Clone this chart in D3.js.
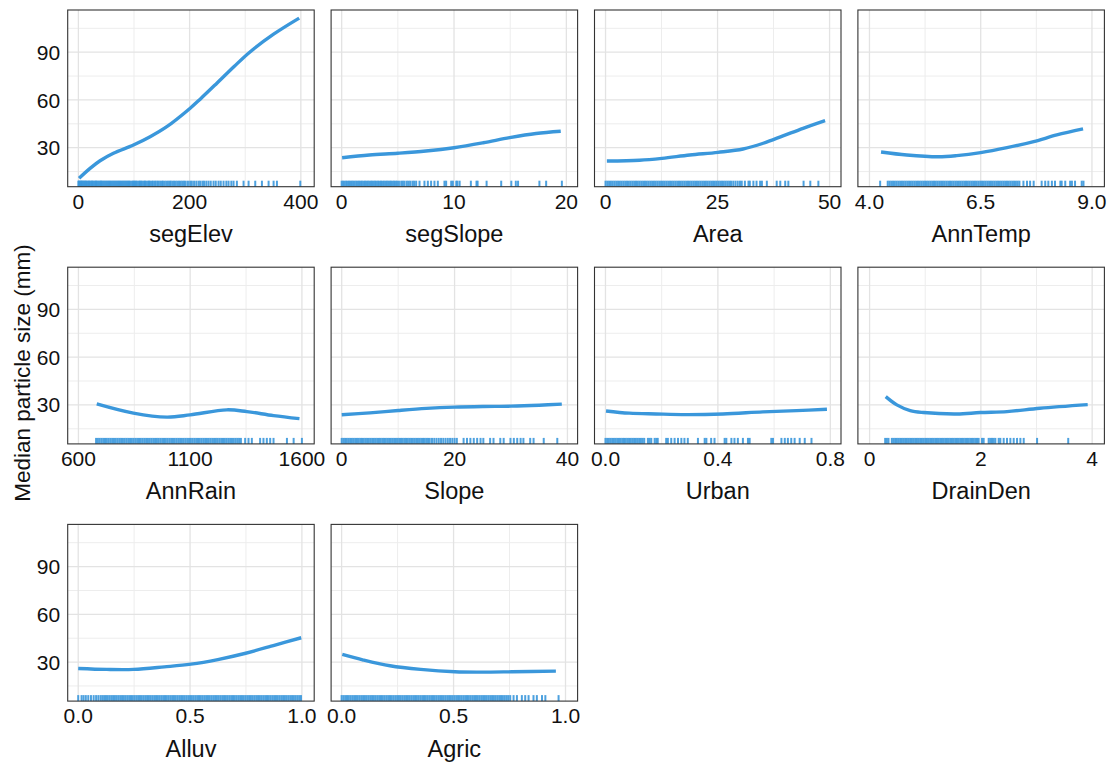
<!DOCTYPE html>
<html>
<head>
<meta charset="utf-8">
<script src="https://cdn.jsdelivr.net/npm/d3@7"></script>
<style>
  body { margin: 0; background: #fff; }
  svg { display: block; }
  text { font-family: "Liberation Sans", Arial, Helvetica, sans-serif; fill: #111; }
</style>
</head>
<body>
<svg id="chart" width="1116" height="766"></svg>
<script>
// ---------------- data ----------------
const variables = ["segElev", "segSlope", "Area", "AnnTemp", "AnnRain", "Slope", "Urban", "DrainDen", "Alluv", "Agric"];
const yTitle = "Median particle size (mm)";
const yTicks = [30, 60, 90];
const yMinor = [15, 45, 75, 105];
const yDomain = [5.5, 116.5];

// x ticks per panel
const segElevTicks = [0, 200, 400];
const segSlopeTicks = [0, 10, 20];
const AreaTicks = [0, 25, 50];
const AnnTempTicks = [4.0, 6.5, 9.0];
const AnnRainTicks = [600, 1100, 1600];
const SlopeTicks = [0, 20, 40];
const UrbanTicks = [0.0, 0.4, 0.8];
const DrainDenTicks = [0, 2, 4];
const AlluvTicks = [0.0, 0.5, 1.0];
const AgricTicks = [0.0, 0.5, 1.0];
const tickDecimals = [0, 0, 0, 1, 0, 0, 1, 0, 1, 1];

// x axis limits per panel
const segElevLim = [-19.2, 424];
const segSlopeLim = [-0.94, 21.0];
const AreaLim = [-2.46, 52.55];
const AnnTempLim = [3.74, 9.28];
const AnnRainLim = [552, 1655];
const SlopeLim = [-1.88, 41.8];
const UrbanLim = [-0.039, 0.838];
const DrainDenLim = [-0.21, 4.22];
const AlluvLim = [-0.047, 1.055];
const AgricLim = [-0.047, 1.054];

// partial dependence curves
const segElevX = [1.3, 21, 39, 63, 99, 129, 159, 201, 219, 249, 280, 308, 351, 397];
const segElevY = [10.8, 17.0, 21.8, 26.5, 31.7, 36.9, 43.2, 54.8, 60.5, 70.5, 81.0, 90.0, 101.3, 111.4];
const segSlopeX = [0.04, 2.47, 5.0, 7.5, 10, 12.6, 14.95, 17.3, 19.5];
const segSlopeY = [23.7, 25.4, 26.5, 27.9, 30, 33.1, 36.3, 38.9, 40.3];
const AreaX = [0.3, 7.6, 12.6, 18.8, 25.1, 30.7, 35.2, 39.6, 44.1, 49];
const AreaY = [21.6, 22.1, 23.3, 25.4, 27.1, 29.2, 32.8, 37.4, 42.2, 47.0];
const AnnTempX = [4.26, 4.84, 5.55, 5.96, 6.5, 7.09, 7.69, 8.21, 8.8];
const AnnTempY = [27.3, 25.4, 24.3, 25.0, 26.9, 30.0, 33.8, 38.0, 41.8];
const AnnRainX = [682, 846, 996, 1100, 1264, 1354, 1473, 1589];
const AnnRainY = [30.6, 24.8, 22.3, 23.7, 26.9, 25.8, 23.3, 21.4];
const SlopeX = [0, 5, 10, 15, 20, 25, 30, 35, 39];
const SlopeY = [23.8, 25.0, 26.5, 27.8, 28.6, 29.0, 29.2, 29.8, 30.5];
const UrbanX = [0.002, 0.085, 0.18, 0.287, 0.418, 0.56, 0.68, 0.788];
const UrbanY = [26.2, 24.8, 24.3, 23.9, 24.3, 25.6, 26.4, 27.3];
const DrainDenX = [0.29, 0.49, 0.73, 0.97, 1.57, 1.99, 2.47, 3.06, 3.92];
const DrainDenY = [35.2, 30.0, 26.4, 25.2, 24.3, 25.2, 25.8, 27.9, 30.2];
const AlluvX = [0, 0.128, 0.248, 0.385, 0.504, 0.624, 0.744, 0.88, 0.997];
const AlluvY = [26.0, 25.4, 25.4, 27.0, 28.7, 31.6, 35.4, 40.7, 45.3];
const AgricX = [0.003, 0.097, 0.216, 0.353, 0.506, 0.625, 0.761, 0.957];
const AgricY = [34.8, 31.3, 27.7, 25.4, 23.9, 23.7, 23.9, 24.3];

// rug (observed predictor values)
const segElevRug = [0,1,2,4,5,6,8,9,11,12,14,15,17,19,20,22,24,25,27,29,31,32,34,36,38,40,41,43,45,47,49,51,53,55,57,59,61,63,65,67,69,71,73,75,77,79,81,83,85,87,89,91,93,96,98,100,102,104,106,109,111,113,115,118,120,122,125,127,129,132,134,137,139,142,144,147,150,152,155,158,161,164,166,169,172,175,178,181,184,187,190,193,197,201,204,208,212,216,219,223,226,230,234,238,243,247,252,256,261,266,270,275,279,285,297,306,318,330,342,351,357,399];
const segSlopeRug = [0,0.13,0.26,0.4,0.52,0.65,0.78,0.9,1.03,1.16,1.3,1.42,1.55,1.68,1.8,1.94,2.07,2.2,2.33,2.46,2.6,2.72,2.85,2.98,3.1,3.24,3.37,3.5,3.63,3.76,3.9,4.02,4.15,4.28,4.4,4.54,4.67,4.8,4.93,5.1,5.3,5.45,5.6,5.8,5.95,6.1,6.3,6.45,6.63,6.93,7.37,7.67,7.96,8.26,8.56,9.15,9.3,9.75,9.9,10.2,10.3,10.5,11.5,12.0,12.1,12.9,14.2,15.1,15.5,15.7,17.6,18.2,19.6];
const AreaRug = [0,0.4,0.8,1.2,1.6,2,2.4,2.8,3.2,3.6,4,4.4,4.8,5.2,5.6,6,6.4,6.8,7.2,7.6,8,8.4,8.8,9.2,9.6,10,10.4,10.8,11.2,11.6,12,12.4,12.8,13.2,13.6,14,14.4,14.8,15.2,15.6,16,16.4,16.8,17.2,17.6,18,18.4,18.8,19.2,19.6,20,20.4,20.8,21.2,21.6,22,22.4,22.8,23.2,23.6,24,24.4,24.8,25.2,25.6,26,26.4,26.8,27.2,27.6,28,28.5,29,29.5,30,30.4,31.1,31.9,32.2,33.0,33.7,34.5,34.9,36.0,38.2,39.0,40.1,40.8,44.2,45.7,47.5];
const AnnTempRug = [4.24,4.41,4.45,4.49,4.53,4.57,4.61,4.65,4.69,4.73,4.77,4.81,4.85,4.89,4.93,4.97,5.01,5.05,5.09,5.13,5.17,5.21,5.25,5.29,5.33,5.37,5.41,5.45,5.49,5.53,5.57,5.61,5.65,5.69,5.73,5.77,5.81,5.85,5.89,5.93,5.97,6.01,6.05,6.09,6.13,6.17,6.21,6.25,6.29,6.33,6.37,6.41,6.45,6.49,6.53,6.57,6.61,6.65,6.69,6.73,6.77,6.81,6.85,6.89,6.93,6.97,7.01,7.05,7.09,7.13,7.17,7.21,7.25,7.29,7.33,7.37,7.46,7.54,7.61,7.69,7.87,7.95,8.02,8.10,8.17,8.29,8.32,8.40,8.51,8.55,8.62,8.77,8.81];
const AnnRainRug = [679,687,695,703,711,719,727,735,743,751,759,767,775,783,791,799,807,815,823,831,839,847,855,863,871,879,887,895,903,911,919,927,935,943,951,959,967,975,983,991,999,1007,1015,1023,1031,1039,1047,1055,1063,1071,1079,1087,1095,1103,1111,1119,1127,1135,1143,1151,1159,1167,1175,1183,1191,1199,1207,1215,1223,1231,1239,1247,1255,1263,1271,1279,1287,1295,1303,1311,1319,1327,1346,1361,1376,1413,1428,1443,1458,1473,1533,1563,1600];
const SlopeRug = [0,0.3,0.6,0.9,1.2,1.5,1.8,2.1,2.4,2.7,3,3.3,3.6,3.9,4.2,4.5,4.8,5.1,5.4,5.7,6,6.3,6.6,6.9,7.2,7.5,7.8,8.1,8.4,8.7,9,9.3,9.6,9.9,10.2,10.5,10.8,11.1,11.4,11.7,12,12.3,12.6,12.9,13.2,13.5,13.8,14.1,14.4,14.7,15,15.3,15.6,16.0,16.4,16.8,17.2,17.6,18.0,18.4,18.8,19.2,19.6,20.0,20.4,21.6,22.2,22.8,23.4,24.0,24.6,25.1,26.3,26.9,28.1,28.7,29.9,30.5,31.1,31.7,32.2,33.4,34.0,35.8,38.2];
const UrbanRug = [0,0.006,0.012,0.018,0.024,0.03,0.036,0.042,0.048,0.054,0.06,0.066,0.072,0.078,0.084,0.09,0.096,0.102,0.108,0.114,0.12,0.126,0.132,0.138,0.151,0.157,0.163,0.175,0.181,0.186,0.216,0.222,0.234,0.246,0.258,0.270,0.281,0.293,0.329,0.353,0.359,0.376,0.388,0.424,0.430,0.448,0.459,0.471,0.489,0.507,0.513,0.590,0.596,0.626,0.638,0.649,0.661,0.673,0.691,0.709,0.733];
const DrainDenRug = [0.28,0.31,0.34,0.40,0.43,0.46,0.49,0.52,0.55,0.58,0.61,0.64,0.67,0.70,0.73,0.76,0.79,0.82,0.85,0.88,0.91,0.94,0.97,1.00,1.03,1.06,1.09,1.12,1.15,1.18,1.21,1.24,1.27,1.30,1.33,1.36,1.39,1.42,1.45,1.48,1.51,1.54,1.57,1.60,1.63,1.66,1.69,1.72,1.75,1.78,1.81,1.84,1.87,1.90,1.93,1.96,2.02,2.05,2.14,2.17,2.20,2.23,2.26,2.32,2.35,2.41,2.47,2.53,2.59,2.65,2.71,2.77,3.01,3.57];
const AlluvRug = [0,0.015,0.024,0.034,0.045,0.057,0.069,0.08,0.09,0.1,0.108,0.116,0.124,0.132,0.14,0.148,0.156,0.164,0.172,0.18,0.188,0.196,0.204,0.212,0.22,0.228,0.236,0.244,0.252,0.26,0.268,0.276,0.284,0.292,0.3,0.308,0.316,0.324,0.332,0.34,0.348,0.356,0.364,0.372,0.38,0.388,0.396,0.404,0.412,0.42,0.428,0.436,0.444,0.452,0.46,0.468,0.476,0.484,0.492,0.5,0.508,0.516,0.524,0.532,0.54,0.548,0.556,0.564,0.572,0.58,0.588,0.596,0.604,0.612,0.62,0.628,0.636,0.644,0.652,0.66,0.668,0.676,0.684,0.692,0.7,0.708,0.716,0.724,0.732,0.74,0.748,0.756,0.764,0.772,0.78,0.788,0.796,0.804,0.812,0.82,0.828,0.836,0.844,0.852,0.86,0.868,0.876,0.884,0.892,0.9,0.908,0.916,0.924,0.932,0.94,0.948,0.956,0.964,0.972,0.98,0.988,0.996];
const AgricRug = [0,0.008,0.016,0.024,0.032,0.04,0.048,0.056,0.064,0.072,0.08,0.088,0.096,0.104,0.112,0.12,0.128,0.136,0.144,0.152,0.16,0.168,0.176,0.184,0.192,0.2,0.208,0.216,0.224,0.232,0.24,0.248,0.256,0.264,0.272,0.28,0.288,0.296,0.304,0.312,0.32,0.328,0.336,0.344,0.352,0.36,0.368,0.376,0.384,0.392,0.4,0.408,0.416,0.424,0.432,0.44,0.448,0.456,0.464,0.472,0.48,0.488,0.496,0.504,0.512,0.52,0.528,0.536,0.544,0.552,0.56,0.568,0.576,0.584,0.592,0.6,0.608,0.616,0.624,0.632,0.64,0.648,0.656,0.664,0.672,0.68,0.688,0.696,0.704,0.712,0.72,0.728,0.736,0.744,0.753,0.768,0.783,0.805,0.820,0.835,0.857,0.872,0.895,0.910,0.969];

// ---------------- build panel table ----------------
const src = {
  segElev: [segElevTicks, segElevLim, segElevX, segElevY, segElevRug],
  segSlope: [segSlopeTicks, segSlopeLim, segSlopeX, segSlopeY, segSlopeRug],
  Area: [AreaTicks, AreaLim, AreaX, AreaY, AreaRug],
  AnnTemp: [AnnTempTicks, AnnTempLim, AnnTempX, AnnTempY, AnnTempRug],
  AnnRain: [AnnRainTicks, AnnRainLim, AnnRainX, AnnRainY, AnnRainRug],
  Slope: [SlopeTicks, SlopeLim, SlopeX, SlopeY, SlopeRug],
  Urban: [UrbanTicks, UrbanLim, UrbanX, UrbanY, UrbanRug],
  DrainDen: [DrainDenTicks, DrainDenLim, DrainDenX, DrainDenY, DrainDenRug],
  Alluv: [AlluvTicks, AlluvLim, AlluvX, AlluvY, AlluvRug],
  Agric: [AgricTicks, AgricLim, AgricX, AgricY, AgricRug]
};
const panels = variables.map((v, i) => {
  const [ticks, lim, xs, ys, rug] = src[v];
  return { name: v, ticks, lim, curve: xs.map((x, j) => [x, ys[j]]), rug, dec: tickDecimals[i] };
});

// ---------------- layout ----------------
const ncol = 4;
const x0 = 67.7, y0 = 10, pw = 246.5, ph = 176.7, stepX = 263.4, stepY = 257.2;
const lineColor = "#3a97db";

const svg = d3.select("#chart");

const y = d3.scaleLinear().domain(yDomain).range([ph, 0]);

panels.forEach((p, i) => {
  const col = i % ncol, row = Math.floor(i / ncol);
  const g = svg.append("g").attr("transform", `translate(${x0 + col * stepX},${y0 + row * stepY})`);
  const x = d3.scaleLinear().domain(p.lim).range([0, pw]);

  g.append("rect").attr("width", pw).attr("height", ph).attr("fill", "#fff");

  // minor grid
  const xMinor = d3.pairs(p.ticks).map(([a, b]) => (a + b) / 2);
  g.selectAll(".vminor").data(xMinor).join("line")
    .attr("x1", d => x(d)).attr("x2", d => x(d)).attr("y1", 0).attr("y2", ph)
    .attr("stroke", "#ededed").attr("stroke-width", 1);
  g.selectAll(".hminor").data(yMinor).join("line")
    .attr("x1", 0).attr("x2", pw).attr("y1", d => y(d)).attr("y2", d => y(d))
    .attr("stroke", "#ededed").attr("stroke-width", 1);
  // major grid
  g.selectAll(".vmajor").data(p.ticks).join("line")
    .attr("x1", d => x(d)).attr("x2", d => x(d)).attr("y1", 0).attr("y2", ph)
    .attr("stroke", "#e3e3e3").attr("stroke-width", 1.3);
  g.selectAll(".hmajor").data(yTicks).join("line")
    .attr("x1", 0).attr("x2", pw).attr("y1", d => y(d)).attr("y2", d => y(d))
    .attr("stroke", "#e3e3e3").attr("stroke-width", 1.3);

  // rug
  g.append("g").selectAll("line").data(p.rug).join("line")
    .attr("x1", d => x(d)).attr("x2", d => x(d))
    .attr("y1", ph).attr("y2", ph - 6)
    .attr("stroke", lineColor).attr("stroke-width", 2).attr("stroke-opacity", 0.9);

  // curve
  g.append("path").datum(p.curve)
    .attr("fill", "none").attr("stroke", lineColor).attr("stroke-width", 3.4)
    .attr("stroke-linecap", "butt")
    .attr("d", d3.line().x(d => x(d[0])).y(d => y(d[1])).curve(d3.curveCatmullRom.alpha(0.5)));

  // border
  g.append("rect").attr("width", pw).attr("height", ph)
    .attr("fill", "none").attr("stroke", "#333").attr("stroke-width", 1.1);

  // x tick labels
  const fmt = d3.format(`.${p.dec}f`);
  g.selectAll(".xt").data(p.ticks).join("text")
    .attr("x", d => x(d)).attr("y", ph + 22)
    .attr("text-anchor", "middle").attr("font-size", 21)
    .text(d => fmt(d));

  // x title
  g.append("text").attr("x", pw / 2).attr("y", ph + 55.5)
    .attr("text-anchor", "middle").attr("font-size", 23.5)
    .text(p.name);

  // y tick labels on first column
  if (col === 0) {
    g.selectAll(".yt").data(yTicks).join("text")
      .attr("x", -7.5).attr("y", d => y(d)).attr("dy", "0.36em")
      .attr("text-anchor", "end").attr("font-size", 21)
      .text(d => d);
  }
});

// y axis title
svg.append("text")
  .attr("transform", `translate(22,373) rotate(-90)`)
  .attr("text-anchor", "middle").attr("dominant-baseline", "central")
  .attr("font-size", 22.5)
  .text(yTitle);
</script>
</body>
</html>
